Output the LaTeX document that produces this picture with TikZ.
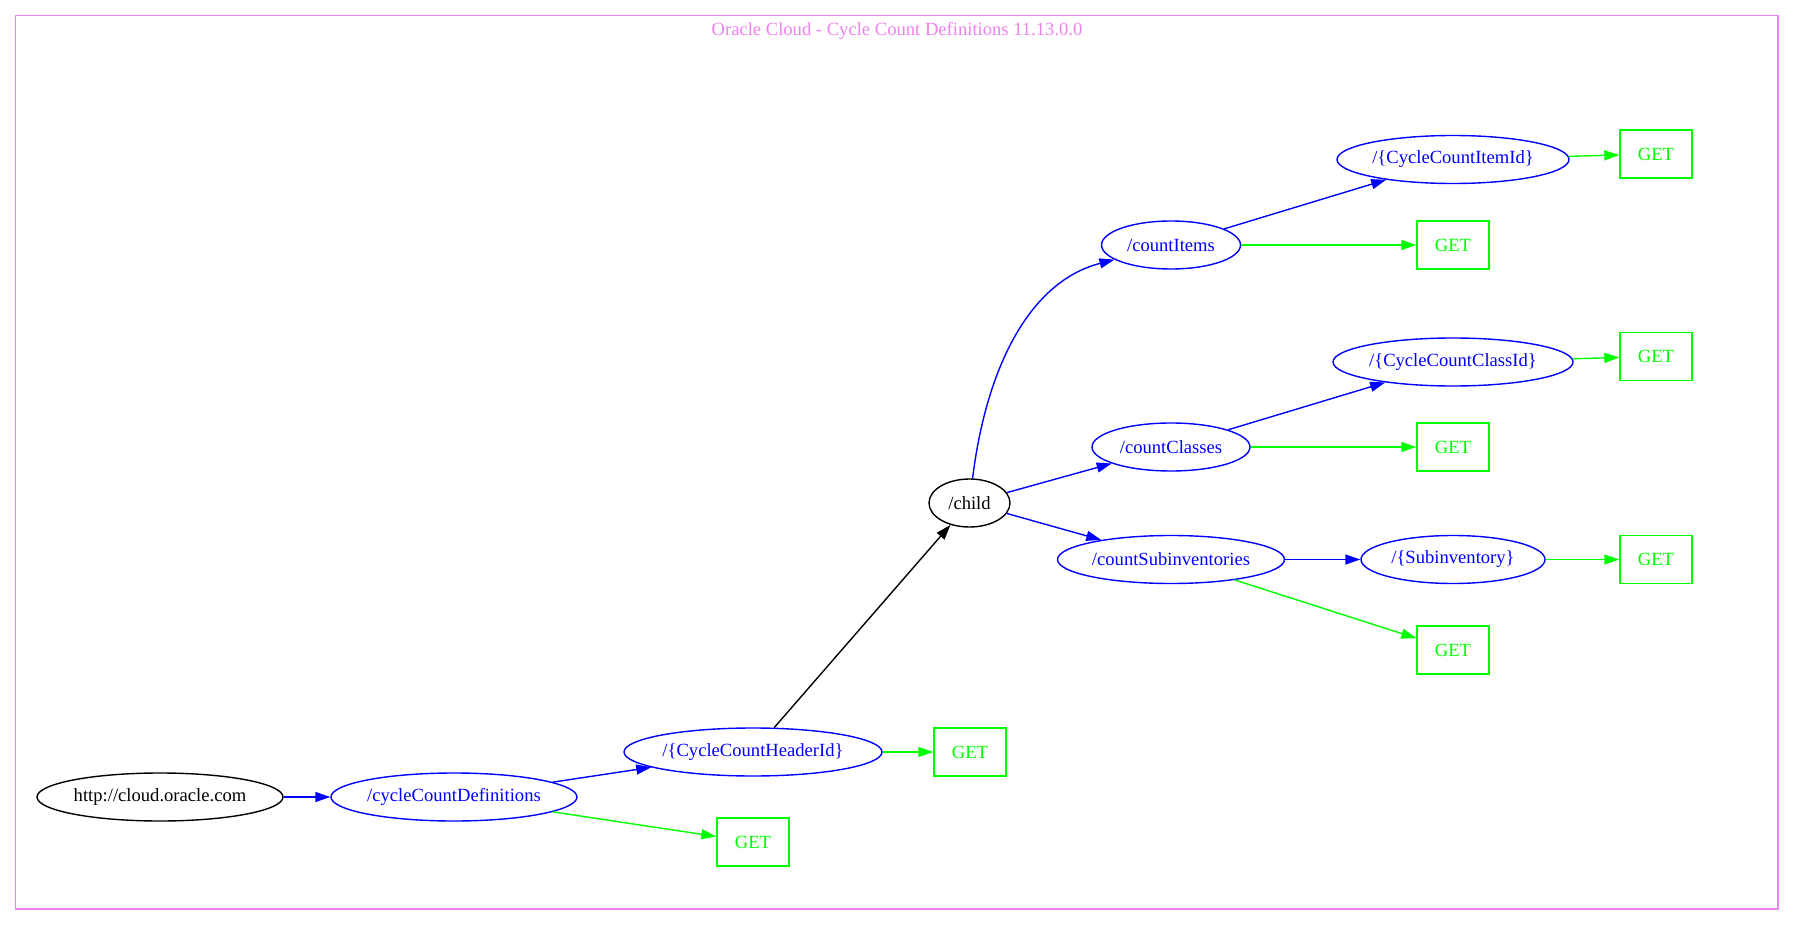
\documentclass[tikz,border=0pt]{standalone}
\usepackage{fontspec}
\setmainfont{Liberation Serif}
\usetikzlibrary{arrows.meta,shapes.geometric}
\definecolor{frame}{RGB}{238,130,238}
\definecolor{getgreen}{RGB}{0,255,0}

\begin{document}
\begin{tikzpicture}[x=0.5pt, y=-0.5pt, line width=0.7pt, font=\fontsize{9.3pt}{11pt}\selectfont,
	res/.style={ellipse, draw, minimum width=#1, minimum height=24pt, inner sep=0pt},
	get/.style={rectangle, draw=getgreen, text=getgreen, minimum width=36pt, minimum height=24pt, inner sep=0pt},
	arr/.style={-{Triangle[length=7.5pt,width=5pt]}}]
	\useasboundingbox (0,0) rectangle (1794,925);
	\draw[frame] (15.5,15.5) rectangle (1778,909);
	\node[frame, anchor=base] (title) at (897,36) {Oracle Cloud - Cycle Count Definitions 11.13.0.0};
	% root and first level
	\node[res=123pt] (root) at (160,797) {http://cloud.oracle.com};
	\node[res=123pt, blue] (defs) at (454,797) {/cycleCountDefinitions};
	\node[res=129pt, blue] (hdr) at (753,752) {/\{CycleCountHeaderId\}};
	\node[get] (getdefs) at (753,842) {GET};
	\node[get] (gethdr) at (970,752) {GET};
	\node[res=40.5pt] (child) at (969.5,503) {/child};
	% children
	\node[res=69.5pt, blue] (items) at (1171,245) {/countItems};
	\node[get] (getitems) at (1453,245) {GET};
	\node[res=116pt, blue] (itemid) at (1453,159.5) {/\{CycleCountItemId\}};
	\node[get] (getitemid) at (1656,154) {GET};
	\node[res=79pt, blue] (classes) at (1171,447) {/countClasses};
	\node[get] (getclasses) at (1453,447) {GET};
	\node[res=120pt, blue] (classid) at (1453,362) {/\{CycleCountClassId\}};
	\node[get] (getclassid) at (1656,356.5) {GET};
	\node[res=113.5pt, blue] (subs) at (1171,559.5) {/countSubinventories};
	\node[res=92pt, blue] (subid) at (1453,559.5) {/\{Subinventory\}};
	\node[get] (getsubid) at (1656,559.5) {GET};
	\node[get] (getsubs) at (1453,650) {GET};
	% edges
	\draw[blue, arr] (root) -- (defs);
	\draw[blue, arr] (defs) -- (hdr);
	\draw[getgreen, arr] (defs) -- (getdefs);
	\draw[getgreen, arr] (hdr) -- (gethdr);
	\draw[arr] (hdr) -- (child);
	\draw[blue, arr] (child) .. controls (986,370) and (1028,282) .. (items);
	\draw[blue, arr] (child) -- (classes);
	\draw[blue, arr] (child) -- (subs);
	\draw[getgreen, arr] (items) -- (getitems);
	\draw[blue, arr] (items) -- (itemid);
	\draw[getgreen, arr] (itemid) -- (getitemid);
	\draw[getgreen, arr] (classes) -- (getclasses);
	\draw[blue, arr] (classes) -- (classid);
	\draw[getgreen, arr] (classid) -- (getclassid);
	\draw[blue, arr] (subs) -- (subid);
	\draw[getgreen, arr] (subid) -- (getsubid);
	\draw[getgreen, arr] (subs) -- (getsubs);
\end{tikzpicture}
\end{document}
